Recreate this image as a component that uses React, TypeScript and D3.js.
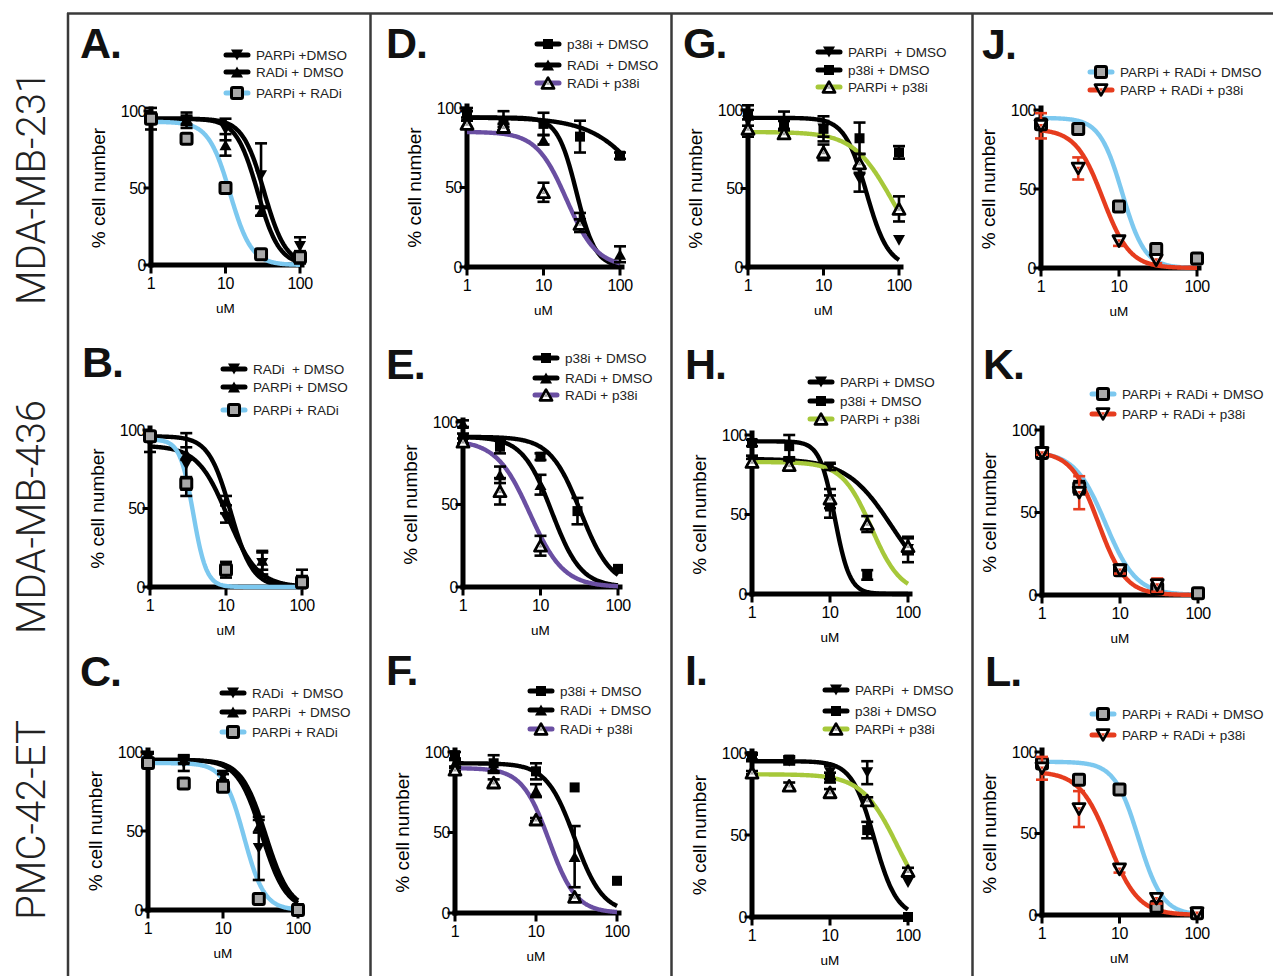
import React, { useEffect, useRef } from 'react';
import * as d3 from 'd3';

const doses = [1, 3, 10, 30, 100];
const xTicks = [1, 10, 100];
const yTicks = [0, 50, 100];
const rowLabels = ['MDA-MB-231', 'MDA-MB-436', 'PMC-42-ET'];

// marker + colour of each series, shared by the three panels in a column
const colMarkers = [
  ['down', 'up', 'graySquare'],
  ['square', 'up', 'openUp'],
  ['down', 'square', 'openUp'],
  ['graySquare', 'openDown'],
];
const colColors = [
  ['#000', '#000', '#7cc8ef'],
  ['#000', '#000', '#6a4fa2'],
  ['#000', '#000', '#a6c83a'],
  ['#7cc8ef', '#e63c1e'],
];

// values in % cell number at each dose; errors = half bar; fits = [top, IC50, hill]
const aNames = ['PARPi +DMSO', 'RADi + DMSO', 'PARPi + RADi'];
const aValues = [[95, 93, 88, 58, 12], [96, 95, 78, 35, 5], [95, 82, 50, 7, 5]];
const aErrors = [[7, 4, 7, 21, 6], [3, 4, 7, 3, 4], [2, 3, 2, 2, 2]];
const aFits = [[95, 33, 3], [95, 27, 3], [93, 11.5, 3]];

const bNames = ['RADi  + DMSO', 'PARPi + DMSO', 'PARPi + RADi'];
const bValues = [[92, 78, 44, 15, 3], [96, 85, 55, 17, 3], [96, 66, 11, null, 3]];
const bErrors = [[6, 20, 3, 7, 8], [3, 4, 3, 6, 4], [2, 4, 5, 0, 2]];
const bFits = [[90, 10.5, 2.2], [96, 11.5, 3], [94, 3.7, 5]];

const cNames = ['RADi  + DMSO', 'PARPi  + DMSO', 'PARPi + RADi'];
const cValues = [[96, 93, 85, 39, 1], [97, 95, 84, 53, 1], [93, 80, 78, 7, 0]];
const cErrors = [[4, 5, 3, 20, 1], [2, 2, 2, 4, 1], [1, 2, 2, 2, 1]];
const cFits = [[95, 33, 2.7], [95, 37, 2.7], [93, 19, 3.2]];

const dNames = ['p38i + DMSO', 'RADi  + DMSO', 'RADi + p38i'];
const dValues = [[97, 90, 90, 82, 70], [95, 93, 80, 28, 8], [90, 88, 47, 27, null]];
const dErrors = [[3, 4, 7, 10, 2], [3, 5, 3, 6, 5], [2, 2, 6, 3, 0]];
const dFits = [[94, 270, 1.2], [94, 27, 3.5], [85, 20, 2.2]];

const eNames = ['p38i + DMSO', 'RADi + DMSO', 'RADi + p38i'];
const eValues = [[90, 85, 79, 46, 11], [99, 68, 62, null, null], [88, 58, 25, null, null]];
const eErrors = [[3, 4, 2, 8, 0], [2, 5, 6, 0, 0], [2, 8, 6, 0, 0]];
const eFits = [[91, 33, 2.2], [91, 14, 2.3], [89, 7.3, 2]];

const fNames = ['p38i + DMSO', 'RADi  + DMSO', 'RADi + p38i'];
const fValues = [[98, 93, 88, 78, 20], [93, 90, 76, 35, null], [89, 81, 58, 10, null]];
const fErrors = [[2, 5, 5, 0, 0], [2, 3, 4, 19, 0], [1, 2, 1, 1, 0]];
const fFits = [null, [93, 30, 2.5], [90, 14.5, 2.6]];

const gNames = ['PARPi  + DMSO', 'p38i + DMSO', 'PARPi + p38i'];
const gValues = [[93, 91, 88, 56, 17], [97, 90, 88, 82, 73], [88, 85, 73, 66, 37]];
const gErrors = [[10, 8, 8, 8, 0], [3, 3, 5, 10, 4], [2, 3, 5, 6, 8]];
const gFits = [[95, 37, 3], null, [86, 80, 1.7]];

const hNames = ['PARPi + DMSO', 'p38i + DMSO', 'PARPi + p38i'];
const hValues = [[84, 82, 80, null, 28], [95, 93, 55, 12, null], [83, 81, 60, 44, 30]];
const hErrors = [[3, 3, 2, 0, 8], [2, 7, 7, 3, 0], [2, 3, 6, 5, 5]];
const hFits = [[85, 62, 1.5], [96, 11.5, 4.5], [83, 34, 2.3]];

const iNames = ['PARPi  + DMSO', 'p38i + DMSO', 'PARPi + p38i'];
const iValues = [[97, 95, 88, 88, 21], [98, 96, 85, 53, 0], [88, 80, 76, 71, 28]];
const iErrors = [[2, 2, 4, 7, 0], [2, 2, 3, 5, 0], [1, 2, 2, 2, 2]];
const iFits = [null, [95, 37, 3], [87, 73, 1.9]];

const jNames = ['PARPi + RADi + DMSO', 'PARP + RADi + p38i'];
const jValues = [[91, 88, 39, 12, 6], [90, 63, 17, 5, null]];
const jErrors = [[2, 1, 3, 2, 1], [8, 7, 3, 2, 0]];
const jFits = [[95, 11, 3], [88, 6.2, 2.5]];

const kNames = ['PARPi + RADi + DMSO', 'PARP + RADi + p38i'];
const kValues = [[86, 65, 15, 4, 1], [86, 62, 15, 6, null]];
const kErrors = [[1, 4, 3, 2, 1], [1, 10, 2, 4, 0]];
const kFits = [[87, 6.5, 2.2], [87, 5.3, 2.5]];

const lNames = ['PARPi + RADi + DMSO', 'PARP + RADi + p38i'];
const lValues = [[93, 83, 77, 5, 1], [90, 65, 28, 10, 1]];
const lErrors = [[3, 2, 2, 2, 1], [7, 11, 2, 3, 0]];
const lFits = [[94, 17.6, 2.8], [88, 7.3, 2.3]];

const panels = [
  { letter: 'A', col: 0, names: aNames, values: aValues, errors: aErrors, fits: aFits, x0: 151, x1: 300, y0: 265, y1: 111, lx: 226, ly: [55, 72, 93], tx: 80, ty: 58 },
  { letter: 'B', col: 0, names: bNames, values: bValues, errors: bErrors, fits: bFits, x0: 150, x1: 302, y0: 587, y1: 430, lx: 223, ly: [369, 387, 410], tx: 82, ty: 377 },
  { letter: 'C', col: 0, names: cNames, values: cValues, errors: cErrors, fits: cFits, x0: 148, x1: 298, y0: 910, y1: 752, lx: 222, ly: [693, 712, 732], tx: 80, ty: 686 },
  { letter: 'D', col: 1, names: dNames, values: dValues, errors: dErrors, fits: dFits, x0: 467, x1: 620, y0: 267, y1: 108, lx: 537, ly: [44, 65, 83], tx: 386, ty: 58 },
  { letter: 'E', col: 1, names: eNames, values: eValues, errors: eErrors, fits: eFits, x0: 463, x1: 618, y0: 587, y1: 422, lx: 535, ly: [358, 378, 395], tx: 386, ty: 379 },
  { letter: 'F', col: 1, names: fNames, values: fValues, errors: fErrors, fits: fFits, x0: 455, x1: 617, y0: 913, y1: 752, lx: 530, ly: [691, 710, 729], tx: 386, ty: 685 },
  { letter: 'G', col: 2, names: gNames, values: gValues, errors: gErrors, fits: gFits, x0: 748, x1: 899, y0: 267, y1: 110, lx: 818, ly: [52, 70, 87], tx: 683, ty: 58 },
  { letter: 'H', col: 2, names: hNames, values: hValues, errors: hErrors, fits: hFits, x0: 752, x1: 908, y0: 594, y1: 435, lx: 810, ly: [382, 401, 419], tx: 685, ty: 379 },
  { letter: 'I', col: 2, names: iNames, values: iValues, errors: iErrors, fits: iFits, x0: 752, x1: 908, y0: 917, y1: 753, lx: 825, ly: [690, 711, 729], tx: 685, ty: 685 },
  { letter: 'J', col: 3, names: jNames, values: jValues, errors: jErrors, fits: jFits, x0: 1041, x1: 1197, y0: 268, y1: 110, lx: 1090, ly: [72, 90], tx: 982, ty: 59 },
  { letter: 'K', col: 3, names: kNames, values: kValues, errors: kErrors, fits: kFits, x0: 1042, x1: 1198, y0: 595, y1: 430, lx: 1092, ly: [394, 414], tx: 983, ty: 379 },
  { letter: 'L', col: 3, names: lNames, values: lValues, errors: lErrors, fits: lFits, x0: 1042, x1: 1197, y0: 915, y1: 752, lx: 1092, ly: [714, 735], tx: 985, ty: 686 },
];

const FONT = '"Liberation Sans", Arial, sans-serif';

function drawMarker(g, type, cx, cy) {
  const s = 11;
  const tri = (up, size) => {
    const h = size * 0.9;
    return up
      ? `M${cx - size / 2},${cy + h / 2}L${cx + size / 2},${cy + h / 2}L${cx},${cy - h / 2}Z`
      : `M${cx - size / 2},${cy - h / 2}L${cx + size / 2},${cy - h / 2}L${cx},${cy + h / 2}Z`;
  };
  if (type === 'down' || type === 'up') {
    g.append('path').attr('d', tri(type === 'up', s + 1)).attr('fill', '#000');
  } else if (type === 'square') {
    g.append('rect').attr('x', cx - 5).attr('y', cy - 5).attr('width', 10).attr('height', 10).attr('fill', '#000');
  } else if (type === 'graySquare') {
    g.append('rect').attr('x', cx - 5.5).attr('y', cy - 5.5).attr('width', 11).attr('height', 11)
      .attr('rx', 1.5).attr('fill', '#a9a9a9').attr('stroke', '#000').attr('stroke-width', 3);
  } else {
    const up = type === 'openUp';
    g.append('path').attr('d', tri(up, 12)).attr('fill', '#fff').attr('stroke', '#000')
      .attr('stroke-width', 2.8).attr('stroke-linejoin', 'round');
    g.append('path').attr('d', tri(up, 4)).attr('fill', up ? '#999' : '#e63c1e');
  }
}

const App = () => {
  const svgRef = useRef(null);

  useEffect(() => {
    const svg = d3.select(svgRef.current);
    svg.selectAll('*').remove();

    // frame
    const frame = svg.append('g').attr('stroke', '#3a3a3a').attr('stroke-width', 2.5).attr('fill', 'none');
    frame.append('line').attr('x1', 67).attr('x2', 1273).attr('y1', 13.5).attr('y2', 13.5);
    [68, 370.5, 671.5, 972.5].forEach((x) => {
      frame.append('line').attr('x1', x).attr('x2', x).attr('y1', 13).attr('y2', 976);
    });

    // row labels
    const rowCenters = [188, 517, 820];
    rowLabels.forEach((t, i) => {
      svg.append('text')
        .attr('transform', `translate(45, ${rowCenters[i]}) rotate(-90)`)
        .attr('text-anchor', 'middle')
        .style('font-family', 'Roboto, "Open Sans", sans-serif')
        .style('font-weight', 300)
        .style('font-size', '40px')
        .attr('fill', '#222')
        .text(t);
    });

    panels.forEach((p) => {
      const g = svg.append('g');
      const x = d3.scaleLog().domain([1, 100]).range([p.x0, p.x1]);
      const y = d3.scaleLinear().domain([0, 100]).range([p.y0, p.y1]);
      const markers = colMarkers[p.col];
      const colors = colColors[p.col];

      // letter
      g.append('text').attr('x', p.tx).attr('y', p.ty)
        .style('font-family', FONT).style('font-weight', 700).style('font-size', '43px')
        .style('letter-spacing', '-1px')
        .attr('fill', '#111').text(p.letter + '.');

      // axes
      const ax = g.append('g').attr('stroke', '#000').attr('stroke-width', 5).attr('stroke-linecap', 'square');
      ax.append('line').attr('x1', x(1)).attr('x2', x(100) + 2).attr('y1', y(0)).attr('y2', y(0));
      ax.append('line').attr('x1', x(1)).attr('x2', x(1)).attr('y1', y(0)).attr('y2', y(100) - 2);
      yTicks.forEach((t) => {
        ax.append('line').attr('stroke-width', 3).attr('x1', x(1) - 6).attr('x2', x(1)).attr('y1', y(t)).attr('y2', y(t));
        g.append('text').attr('x', x(1) - 5).attr('y', y(t)).attr('dy', '0.36em')
          .attr('text-anchor', 'end').style('font-family', FONT).style('font-size', '16px')
          .style('letter-spacing', '-0.5px').text(t);
      });
      xTicks.forEach((t) => {
        ax.append('line').attr('stroke-width', 3).attr('x1', x(t)).attr('x2', x(t)).attr('y1', y(0)).attr('y2', y(0) + 7);
        g.append('text').attr('x', x(t)).attr('y', y(0) + 24)
          .attr('text-anchor', 'middle').style('font-family', FONT).style('font-size', '16px')
          .style('letter-spacing', '-0.5px').text(t);
      });
      g.append('text').attr('x', x(10)).attr('y', y(0) + 48).attr('text-anchor', 'middle')
        .style('font-family', FONT).style('font-size', '13.5px').text('uM');
      g.append('text')
        .attr('transform', `translate(${x(1) - 46}, ${(y(0) + y(100)) / 2}) rotate(-90)`)
        .attr('text-anchor', 'middle').style('font-family', FONT).style('font-size', '19px')
        .text('% cell number');

      // fitted curves
      const samples = d3.range(0, 2.0001, 0.01).map((l) => Math.pow(10, l));
      p.fits.forEach((f, si) => {
        if (!f) return;
        const [top, ic50, hill] = f;
        const line = d3.line()
          .x((d) => x(d))
          .y((d) => y(top / (1 + Math.pow(d / ic50, hill))));
        g.append('path').datum(samples).attr('d', line).attr('fill', 'none')
          .attr('stroke', colors[si]).attr('stroke-width', 4.4);
      });

      // error bars and points
      p.values.forEach((vals, si) => {
        const errColor = markers[si] === 'openDown' ? '#e63c1e' : '#000';
        vals.forEach((v, di) => {
          if (v === null) return;
          const e = p.errors[si][di];
          const cx = x(doses[di]);
          if (e > 0) {
            const eb = g.append('g').attr('stroke', errColor).attr('stroke-width', 2.6);
            const lo = Math.max(0, v - e);
            eb.append('line').attr('x1', cx).attr('x2', cx).attr('y1', y(lo)).attr('y2', y(v + e));
            eb.append('line').attr('x1', cx - 6).attr('x2', cx + 6).attr('y1', y(lo)).attr('y2', y(lo));
            eb.append('line').attr('x1', cx - 6).attr('x2', cx + 6).attr('y1', y(v + e)).attr('y2', y(v + e));
          }
          drawMarker(g, markers[si], cx, y(v));
        });
      });

      // legend
      p.names.forEach((name, si) => {
        const ly = p.ly[si];
        g.append('line').attr('x1', p.lx).attr('x2', p.lx + 22).attr('y1', ly).attr('y2', ly)
          .attr('stroke', colors[si]).attr('stroke-width', 5).attr('stroke-linecap', 'round');
        drawMarker(g, markers[si], p.lx + 11, ly);
        g.append('text').attr('x', p.lx + 30).attr('y', ly).attr('dy', '0.36em')
          .style('font-family', FONT).style('font-size', '13.5px').style('white-space', 'pre')
          .attr('fill', '#222').text(name);
      });
    });
  }, []);

  return (
    <svg ref={svgRef} width={1273} height={976} style={{ display: 'block', position: 'absolute', left: 0, top: 0, background: '#fff' }} />
  );
};

export default App;
